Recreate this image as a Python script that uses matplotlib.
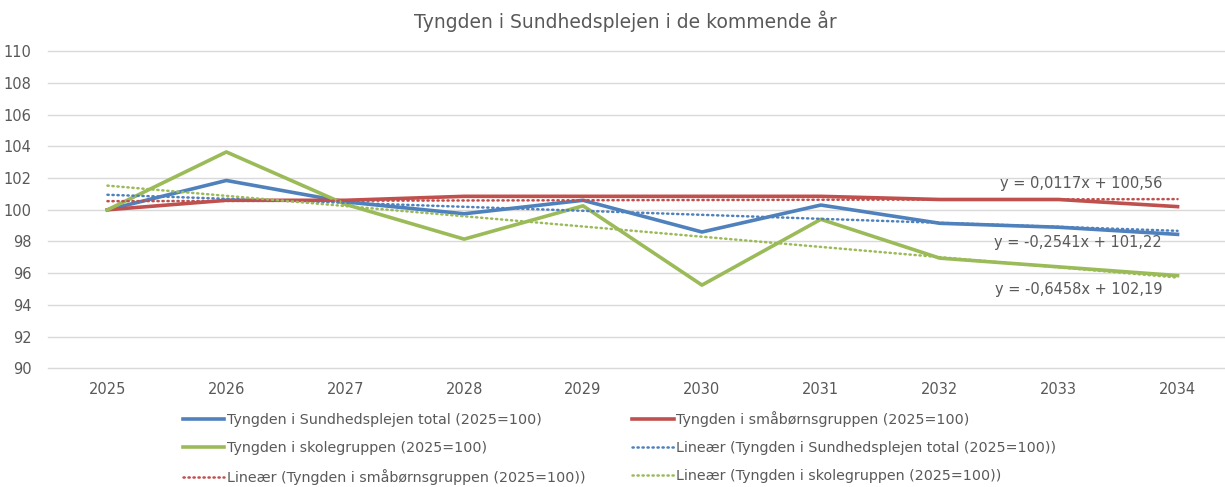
import matplotlib
matplotlib.use("Agg")
import matplotlib.pyplot as plt
import numpy as np

# -----------------------------
# Data
# -----------------------------
YEARS = [2025, 2026, 2027, 2028, 2029, 2030, 2031, 2032, 2033, 2034]
TOTAL = [100.0, 101.85, 100.5, 99.75, 100.6, 98.6, 100.3, 99.15, 98.9, 98.45]
SMAABOERN = [100.0, 100.6, 100.6, 100.85, 100.85, 100.85, 100.85, 100.65, 100.65, 100.2]
SKOLE = [100.0, 103.65, 100.35, 98.15, 100.25, 95.25, 99.4, 96.95, 96.4, 95.85]

LABELS = [
    "Tyngden i Sundhedsplejen total (2025=100)",
    "Tyngden i småbørnsgruppen (2025=100)",
    "Tyngden i skolegruppen (2025=100)",
]
EQUATIONS = ["y = -0,2541x + 101,22", "y = 0,0117x + 100,56", "y = -0,6458x + 102,19"]
EQ_Y = [97.96, 101.68, 95.0]

BLUE = "#4F81BD"
RED = "#C0504D"
GREEN = "#9BBB59"
TEXT = "#595959"
GRID = "#D9D9D9"

plt.rcParams["font.family"] = ["DejaVu Sans"]

W, H = 1225, 487
fig = plt.figure(figsize=(W / 100, H / 100), dpi=100)
left, right, top, bottom = 48, 1237, 51.3, 368.3
ax = fig.add_axes([left / W, 1 - bottom / H, (right - left) / W, (bottom - top) / H])

x = np.arange(1, len(YEARS) + 1)
series = [TOTAL, SMAABOERN, SKOLE]
colors = [BLUE, RED, GREEN]

handles = []
for vals, c, lab in zip(series, colors, LABELS):
    h, = ax.plot(x, vals, color=c, lw=2.6, label=lab, zorder=3, solid_joinstyle="round")
    handles.append(h)

# linear trendlines, like Excel's "Lineær" option
trend_handles = []
for vals, c, lab in zip(series, colors, LABELS):
    k, m = np.polyfit(x, vals, 1)
    h, = ax.plot(x, k * x + m, color=c, lw=1.8, linestyle=(0, (0.5, 1.5)),
                 dash_capstyle="round", label=f"Lineær ({lab})", zorder=4)
    trend_handles.append(h)

for eq, ey in zip(EQUATIONS, EQ_Y):
    ax.text(9.87, ey, eq, ha="right", va="center", fontsize=10.5, color=TEXT)

ax.set_xlim(0.5, 10.5)
ax.set_ylim(90, 110)
ax.set_yticks(np.arange(90, 111, 2))
ax.set_xticks(x)
ax.set_xticklabels([str(y) for y in YEARS])
ax.tick_params(length=0, colors=TEXT, labelsize=10.5)
ax.tick_params(axis="x", pad=10)
ax.tick_params(axis="y", pad=12)
ax.grid(axis="y", color=GRID, lw=1)
for gl in ax.get_ygridlines():
    gl.set_clip_on(False)
ax.set_axisbelow(True)
for s in ax.spines.values():
    s.set_visible(False)

fig.text(625 / W, 1 - 21 / H, "Tyngden i Sundhedsplejen i de kommende år",
         ha="center", va="center", fontsize=13.5, color=TEXT)

order = [handles[0], handles[2], trend_handles[1], handles[1], trend_handles[0], trend_handles[2]]
leg = fig.legend(order, [h.get_label() for h in order], ncol=2, frameon=False,
                 loc="upper left", bbox_to_anchor=(170 / W, 1 - 398 / H),
                 fontsize=10.3, handlelength=2.9, handletextpad=0.15,
                 columnspacing=3.3, labelspacing=0.97, labelcolor=TEXT)

fig.savefig("out.png", dpi=100)
